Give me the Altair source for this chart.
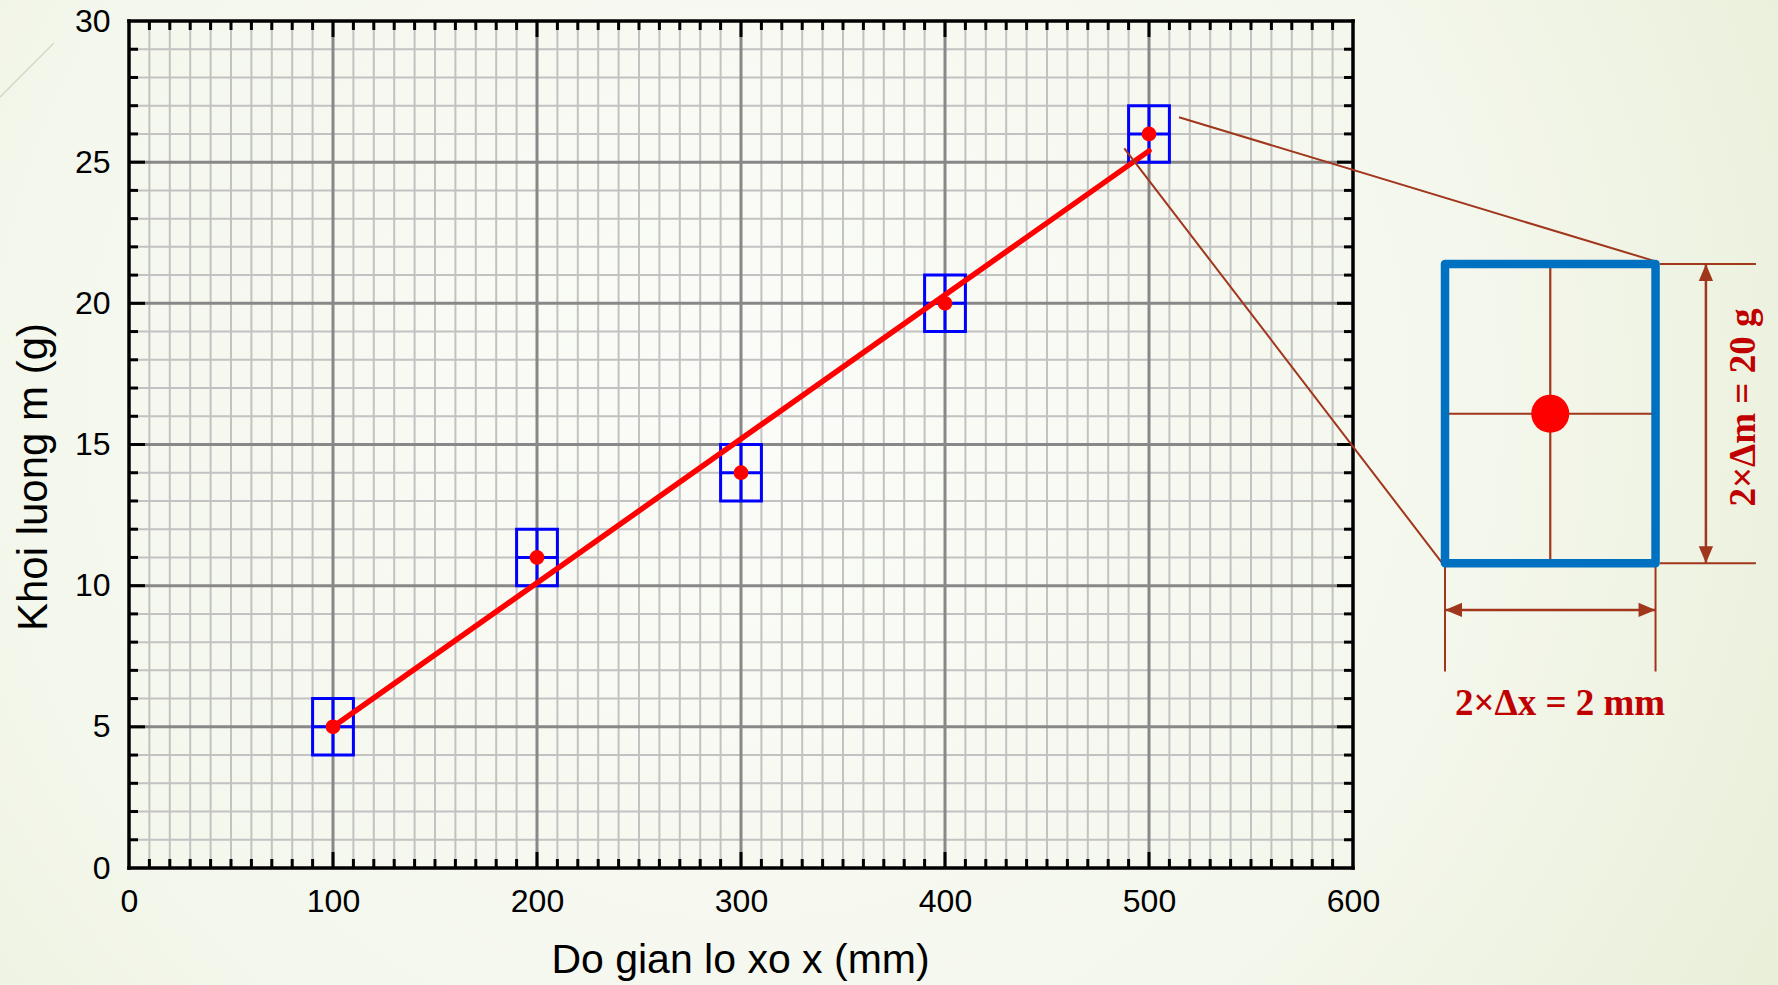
import altair as alt
import pandas as pd

# ---------------- data ----------------
X_MM = [100, 200, 300, 400, 500]          # Do gian lo xo x (mm)
M_G = [5, 11, 14, 20, 26]                 # Khoi luong m (g)
HALF_X = 10                               # half width of each error box (mm)
HALF_M = 1                                # half height of each error box (g)
FIT_X = [100, 500]                        # fitted straight line end points
FIT_M = [5.0, 25.4]

X_LABELS = [0, 100, 200, 300, 400, 500, 600]
Y_LABELS = [0, 5, 10, 15, 20, 25, 30]
X_MINOR = [v for v in range(10, 600, 10) if v % 100]
Y_MINOR = [v for v in range(1, 30) if v % 5]
X_MAJOR = [100, 200, 300, 400, 500]
Y_MAJOR = [5, 10, 15, 20, 25]
FRAME_X = [0, 600]
FRAME_Y = [0, 30]

# enlarged error box drawn to the right of the plot (in the chart's data units)
INSET_X = [645.1, 748.3]
INSET_Y = [10.79, 21.39]
INSET_CX = 696.7
INSET_CY = 16.09
SEG_X = [696.7, 645.1, 514.7, 487.9, 750.5, 750.5, 645.1, 748.3, 773.0, 645.1]
SEG_Y = [10.79, 16.09, 26.59, 25.49, 21.39, 10.79, 10.79, 10.79, 10.79, 9.14]
SEG_X2 = [696.7, 748.3, 750.0, 644.5, 797.5, 797.5, 645.1, 748.3, 773.0, 748.3]
SEG_Y2 = [21.39, 16.09, 21.45, 10.73, 21.39, 10.79, 6.96, 6.96, 21.39, 9.14]
SEG_W = [2.2, 2.2, 2.0, 2.0, 2.0, 2.0, 2.0, 2.0, 2.5, 2.5]
ARROW_X = [773.0, 773.0, 645.1, 748.3]
ARROW_Y = [21.39, 10.79, 9.14, 9.14]
ARROW_SHAPE = ["M0,0L-0.42,1L0.42,1Z", "M0,0L-0.42,-1L0.42,-1Z",
               "M0,0L1,-0.42L1,0.42Z", "M0,0L-1,-0.42L-1,0.42Z"]
LABEL_DX = "2×Δx = 2 mm"
LABEL_DM = "2×Δm = 20 g"
LABEL_DX_POS = (701.5, 5.42)
LABEL_DM_POS = (797.1, 16.31)
DECOR_X = [-63.2, -36.8]
DECOR_Y = [27.31, 29.22]

# ---------------- styles ----------------
W, H = 1224, 847
BROWN = "#A0361C"
DARKRED = "#C00000"
SANS = "Liberation Sans"
SERIF = "Liberation Serif"

XS = alt.Scale(domain=[0, 600], nice=False, zero=False)
YS = alt.Scale(domain=[0, 30], nice=False, zero=False)

X_AXIS = alt.Axis(values=X_LABELS, format="d", labelFont=SANS, labelFontSize=32,
                  labelColor="black", labelPadding=18, labelFlush=False,
                  labelOverlap=False, ticks=False, tickSize=0, domain=False,
                  grid=False, title="Do gian lo xo x (mm)", titleFont=SANS,
                  titleFontSize=41, titleFontWeight="normal", titleColor="black",
                  titleX=611, titleY=104, titleAlign="center",
                  titleBaseline="alphabetic", zindex=1)
Y_AXIS = alt.Axis(values=Y_LABELS, format="d", labelFont=SANS, labelFontSize=32,
                  labelColor="black", labelPadding=19, labelFlush=False,
                  labelOverlap=False, ticks=False, tickSize=0, domain=False,
                  grid=False, title="Khoi luong m (g)", titleFont=SANS,
                  titleFontSize=42, titleFontWeight="normal", titleColor="black",
                  titleAngle=270, titleX=-83, titleY=455.5, titleAlign="center",
                  titleBaseline="alphabetic", zindex=1)


def X(field):
    return alt.X(field, type="quantitative", scale=XS, axis=X_AXIS)


def Y(field):
    return alt.Y(field, type="quantitative", scale=YS, axis=Y_AXIS)


pts = pd.DataFrame({"x": X_MM, "m": M_G})
pts["x0"] = pts["x"] - HALF_X
pts["x1"] = pts["x"] + HALF_X
pts["m0"] = pts["m"] - HALF_M
pts["m1"] = pts["m"] + HALF_M
fit = pd.DataFrame({"x": FIT_X, "m": FIT_M})

one = pd.DataFrame({"k": [0]})

# background gradient
bg = alt.Chart(one).mark_rect(
    fill=alt.RadialGradient(
        gradient="radial", x1=0.42, y1=0.45, r1=0, x2=0.42, y2=0.45, r2=0.75,
        stops=[alt.GradientStop(color="#FBFCF8", offset=0),
               alt.GradientStop(color="#F4F7EC", offset=0.55),
               alt.GradientStop(color="#E6ECD3", offset=1)]),
    strokeWidth=0,
).encode(x=alt.value(-129), x2=alt.value(1649), y=alt.value(-21), y2=alt.value(964))

decor = alt.Chart(pd.DataFrame({"x": [DECOR_X[0]], "y": [DECOR_Y[0]],
                                "x2": [DECOR_X[1]], "y2": [DECOR_Y[1]]})).mark_rule(
    color="#D3D8C2", strokeWidth=1.5).encode(x=X("x"), y=Y("y"), x2="x2", y2="y2")

# grid
gx_minor = alt.Chart(pd.DataFrame({"v": X_MINOR})).mark_rule(
    color="#C2C2C2", strokeWidth=2).encode(x=X("v"))
gy_minor = alt.Chart(pd.DataFrame({"v": Y_MINOR})).mark_rule(
    color="#C2C2C2", strokeWidth=2).encode(y=Y("v"))
gx_major = alt.Chart(pd.DataFrame({"v": X_MAJOR})).mark_rule(
    color="#888888", strokeWidth=3).encode(x=X("v"))
gy_major = alt.Chart(pd.DataFrame({"v": Y_MAJOR})).mark_rule(
    color="#888888", strokeWidth=3).encode(y=Y("v"))

# inward ticks on all four sides
TK = dict(color="black", strokeWidth=3)
xmin_df = pd.DataFrame({"v": X_MINOR})
ymin_df = pd.DataFrame({"v": Y_MINOR})
xmaj_df = pd.DataFrame({"v": X_MAJOR})
ymaj_df = pd.DataFrame({"v": Y_MAJOR})
ticks = [
    alt.Chart(xmin_df).mark_rule(**TK).encode(x=X("v"), y=alt.value(H), y2=alt.value(H - 9)),
    alt.Chart(xmin_df).mark_rule(**TK).encode(x=X("v"), y=alt.value(0), y2=alt.value(9)),
    alt.Chart(xmaj_df).mark_rule(**TK).encode(x=X("v"), y=alt.value(H), y2=alt.value(H - 16)),
    alt.Chart(xmaj_df).mark_rule(**TK).encode(x=X("v"), y=alt.value(0), y2=alt.value(16)),
    alt.Chart(ymin_df).mark_rule(**TK).encode(y=Y("v"), x=alt.value(0), x2=alt.value(9)),
    alt.Chart(ymin_df).mark_rule(**TK).encode(y=Y("v"), x=alt.value(W), x2=alt.value(W - 9)),
    alt.Chart(ymaj_df).mark_rule(**TK).encode(y=Y("v"), x=alt.value(0), x2=alt.value(16)),
    alt.Chart(ymaj_df).mark_rule(**TK).encode(y=Y("v"), x=alt.value(W), x2=alt.value(W - 16)),
]

frame_x = alt.Chart(pd.DataFrame({"v": FRAME_X})).mark_rule(
    color="black", strokeWidth=3.5, strokeCap="square").encode(x=X("v"))
frame_y = alt.Chart(pd.DataFrame({"v": FRAME_Y})).mark_rule(
    color="black", strokeWidth=3.5, strokeCap="square").encode(y=Y("v"))

# error boxes with cross lines
boxes = alt.Chart(pts).mark_rect(fillOpacity=0, stroke="#0000FF", strokeWidth=3).encode(
    x=X("x0"), x2="x1", y=Y("m0"), y2="m1")
hcross = alt.Chart(pts).mark_rule(color="#0000FF", strokeWidth=3).encode(
    x=X("x0"), x2="x1", y=Y("m"))
vcross = alt.Chart(pts).mark_rule(color="#0000FF", strokeWidth=3).encode(
    x=X("x"), y=Y("m0"), y2="m1")

fit_line = alt.Chart(fit).mark_line(color="#FF0000", strokeWidth=5.5, strokeCap="round").encode(
    x=X("x"), y=Y("m"))
dots = alt.Chart(pts).mark_circle(color="#FF0000", size=218, opacity=1).encode(
    x=X("x"), y=Y("m"))

# inset
segs = pd.DataFrame({"x": SEG_X, "y": SEG_Y, "x2": SEG_X2, "y2": SEG_Y2, "w": SEG_W})
seg_layer = alt.Chart(segs).mark_rule(color=BROWN).encode(
    x=X("x"), y=Y("y"), x2="x2", y2="y2", strokeWidth=alt.StrokeWidth("w:Q", scale=None))
inset_box = alt.Chart(pd.DataFrame({"x0": [INSET_X[0]], "x1": [INSET_X[1]],
                                    "y0": [INSET_Y[0]], "y1": [INSET_Y[1]]})).mark_rect(
    fillOpacity=0, stroke="#0070C0", strokeWidth=8.5, strokeJoin="round").encode(
    x=X("x0"), x2="x1", y=Y("y0"), y2="y1")
inset_dot = alt.Chart(pd.DataFrame({"x": [INSET_CX], "y": [INSET_CY]})).mark_circle(
    color="#FF0000", size=1452, opacity=1).encode(x=X("x"), y=Y("y"))
arrows = alt.Chart(pd.DataFrame({"x": ARROW_X, "y": ARROW_Y, "s": ARROW_SHAPE})).mark_point(
    filled=True, color=BROWN, size=1156, opacity=1).encode(
    x=X("x"), y=Y("y"), shape=alt.Shape("s:N", scale=None))
txt_dx = alt.Chart(pd.DataFrame({"x": [LABEL_DX_POS[0]], "y": [LABEL_DX_POS[1]],
                                 "t": [LABEL_DX]})).mark_text(
    font=SERIF, fontSize=37, fontWeight="bold", color=DARKRED, align="center",
    baseline="alphabetic").encode(x=X("x"), y=Y("y"), text="t:N")
txt_dm = alt.Chart(pd.DataFrame({"x": [LABEL_DM_POS[0]], "y": [LABEL_DM_POS[1]],
                                 "t": [LABEL_DM]})).mark_text(
    font=SERIF, fontSize=37, fontWeight="bold", color=DARKRED, align="center",
    baseline="alphabetic", angle=270).encode(x=X("x"), y=Y("y"), text="t:N")

chart = alt.layer(
    bg, decor, gx_minor, gy_minor, gx_major, gy_major, *ticks, frame_x, frame_y,
    boxes, hcross, vcross, fit_line, seg_layer, dots, inset_box, inset_dot, arrows,
    txt_dx, txt_dm,
).properties(
    width=W, height=H,
    autosize=alt.AutoSizeParams(type="none"),
    padding={"left": 129, "top": 21, "right": 425, "bottom": 117},
).configure(background="#EEF2E2").configure_view(strokeWidth=0)

chart.save("out.html", embed_options={"renderer": "svg", "actions": False})
